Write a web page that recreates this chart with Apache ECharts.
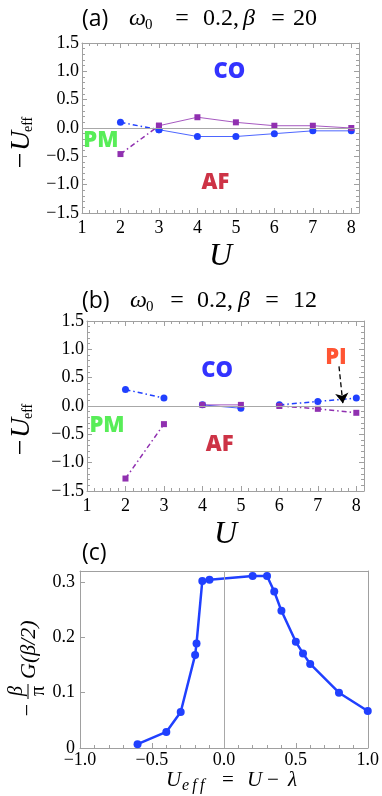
<!DOCTYPE html>
<html>
<head>
    <meta charset="utf-8">
    <title>ECharts</title>
    <script src="https://cdn.jsdelivr.net/npm/echarts@6/dist/echarts.min.js"></script>
    <style>
        html, body, #main {
            width: 100%;
            height: 100%;
            margin: 0;
            background: #fff;
        }
    </style>
</head>
<body>
<div id="main"></div>
<script type="text/javascript">
// panels (a) and (b): -U_eff against U
var uValues = [2, 3, 4, 5, 6, 7, 8];
var coA = [0.10, -0.03, -0.15, -0.15, -0.10, -0.05, -0.05];   // blue circles
var afA = [-0.46, 0.04, 0.19, 0.10, 0.04, 0.04, 0.00];        // purple squares
var coB = [0.29, 0.14, 0.02, -0.04, 0.02, 0.08, 0.14];
var afB = [-1.28, -0.32, 0.02, 0.02, 0.00, -0.05, -0.12];
// line pieces: first index, last index, dash style
var piecesA = [[0, 1, 'dashdot'], [1, 6, 'solid']];
var piecesB = [[0, 1, 'dashdot'], [2, 3, 'solid'], [4, 6, 'dashdot']];
// region names, in data coordinates
var namesA = [['CO', 4.83, 0.99], ['PM', 1.49, -0.23], ['AF', 4.47, -0.97]];
var namesB = [['CO', 4.38, 0.63], ['PM', 1.52, -0.34], ['AF', 4.45, -0.69], ['PI', 7.47, 0.86]];
var arrowB = [[7.55, 0.70], [7.65, 0.05]];

// panel (c): -(beta/pi) G(beta/2) against U_eff
var uEff = [-0.6, -0.4, -0.3, -0.2, -0.19, -0.15, -0.1, 0.2, 0.3, 0.35, 0.4, 0.5, 0.55, 0.6, 0.8, 1.0];
var gHalf = [0.007, 0.029, 0.065, 0.168, 0.189, 0.302, 0.304, 0.311, 0.311, 0.283, 0.248, 0.192, 0.171, 0.152, 0.100, 0.067];

var SERIF = 'Liberation Serif';
var SANS = 'Open Sans';
var FRAME = '#a0a0a0';
var BLUE = '#2040ff';
var PURPLE = '#9030b0';
var DASHDOT = [5, 3, 1.5, 3];
var nameColor = {CO: '#0000ff', PM: '#2ee82e', AF: '#c00018', PI: '#ff2a00'};

var myChart = echarts.init(document.getElementById('main'));

function minus(s) { return s.replace('-', '\u2212'); }

function pts(xs, ys, i, j) {
    var r = [];
    for (var k = i; k <= j; k++) r.push([xs[k], ys[k]]);
    return r;
}

function frameAxis(grid, pos, opts) {
    var a = {
        type: 'value', gridIndex: grid, position: pos,
        axisLine: {show: true, onZero: false, lineStyle: {color: FRAME, width: 1}},
        axisTick: {show: true, inside: true, length: 5, lineStyle: {color: FRAME}},
        minorTick: {show: false},
        splitLine: {show: false},
        axisLabel: {show: false}
    };
    for (var k in opts) a[k] = opts[k];
    return a;
}

function label(fmt, margin) {
    return {show: true, margin: margin, color: '#000', fontFamily: SERIF, fontSize: 18, formatter: fmt};
}

var uFmt = function (v) { return Math.abs(v - Math.round(v)) < 1e-6 ? String(Math.round(v)) : ''; };
var yFmt = function (v) { return minus(v.toFixed(1)); };

var xAxes = [], yAxes = [];
[0, 1].forEach(function (g) {
    ['bottom', 'top'].forEach(function (p) {
        xAxes.push(frameAxis(g, p, {
            min: 1, max: 8.2, interval: 1,
            minorTick: {show: true, splitNumber: 5, length: 3, lineStyle: {color: FRAME}},
            axisLabel: p === 'bottom' ? label(uFmt, 6) : {show: false},
            name: p === 'bottom' ? 'U' : '', nameLocation: 'middle', nameGap: 28,
            nameTextStyle: {fontFamily: SERIF, fontStyle: 'italic', fontSize: 32, color: '#000'}
        }));
    });
    ['left', 'right'].forEach(function (p) {
        yAxes.push(frameAxis(g, p, {
            min: -1.5, max: 1.5, interval: 0.5,
            minorTick: {show: true, splitNumber: 5, length: 3, lineStyle: {color: FRAME}},
            axisLabel: p === 'left' ? label(yFmt, 3) : {show: false}
        }));
    });
});
xAxes.push(frameAxis(2, 'bottom', {
    min: -1, max: 1, interval: 0.5,
    minorTick: {show: true, splitNumber: 5, length: 3, lineStyle: {color: FRAME}},
    axisLabel: label(yFmt, 3)
}));
xAxes.push(frameAxis(2, 'top', {min: -1, max: 1, axisTick: {show: false}}));
yAxes.push(frameAxis(2, 'left', {
    min: 0, max: 0.32, interval: 0.1,
    axisLabel: label(function (v) {
        if (v === 0) return '0';
        return Math.abs(v * 10 - Math.round(v * 10)) < 1e-6 ? v.toFixed(1) : '';
    }, 5)
}));
yAxes.push(frameAxis(2, 'right', {min: 0, max: 0.32, axisTick: {show: false}}));

function lineSeries(g, ys, pieces, color, symbol, size) {
    return pieces.map(function (p) {
        var solid = p[2] === 'solid';
        return {
            type: 'line', xAxisIndex: g * 2, yAxisIndex: g * 2,
            data: pts(uValues, ys, p[0], p[1]),
            symbol: symbol, symbolSize: size, showSymbol: true,
            itemStyle: {color: color},
            lineStyle: {color: color, width: solid ? 1 : 1.5, type: solid ? 'solid' : DASHDOT, opacity: solid ? 0.8 : 1},
            z: 3
        };
    });
}

function zeroLine(g, key) {
    var d = {};
    d[key] = 0;
    return {
        type: 'line', xAxisIndex: g * 2, yAxisIndex: g * 2, data: [], z: 1,
        markLine: {silent: true, symbol: 'none', label: {show: false},
            lineStyle: {color: '#a8a8a8', width: 1, type: 'solid'}, data: [d]}
    };
}

function nameSeries(g, names) {
    return {
        type: 'scatter', xAxisIndex: g * 2, yAxisIndex: g * 2, z: 5,
        symbolSize: 1, itemStyle: {color: 'rgba(0,0,0,0)'},
        data: names.map(function (n) {
            return {
                value: [n[1], n[2]],
                label: {show: true, position: 'inside', formatter: n[0], color: nameColor[n[0]],
                    fontFamily: SANS, fontWeight: 800, fontSize: 22}
            };
        })
    };
}

var series = [];
series.push(zeroLine(0, 'yAxis'));
series = series.concat(lineSeries(0, coA, piecesA, BLUE, 'circle', 7));
series = series.concat(lineSeries(0, afA, piecesA, PURPLE, 'rect', 6));
series.push(nameSeries(0, namesA));

series.push(zeroLine(1, 'yAxis'));
series = series.concat(lineSeries(1, coB, piecesB, BLUE, 'circle', 7));
series = series.concat(lineSeries(1, afB, piecesB, PURPLE, 'rect', 6));
series.push(nameSeries(1, namesB));
series.push({
    type: 'line', xAxisIndex: 2, yAxisIndex: 2, data: [], z: 6,
    markLine: {silent: true, symbol: ['none', 'arrow'], symbolSize: 10, label: {show: false},
        lineStyle: {color: '#000', width: 1.3, type: [5, 3]},
        data: [[{coord: arrowB[0]}, {coord: arrowB[1]}]]}
});

series.push(zeroLine(2, 'xAxis'));
series.push({
    type: 'line', xAxisIndex: 4, yAxisIndex: 4, z: 3,
    data: uEff.map(function (x, i) { return [x, gHalf[i]]; }),
    symbol: 'circle', symbolSize: 8, showSymbol: true,
    itemStyle: {color: BLUE}, lineStyle: {color: BLUE, width: 2.5}
});

// text helper; local x/y, serif unless given
function t(x, y, s, size, extra) {
    var st = {text: s, x: x, y: y, fill: '#000', fontFamily: SERIF, fontSize: size,
        align: 'left', verticalAlign: 'middle'};
    for (var k in extra) st[k] = extra[k];
    return {type: 'text', style: st, z: 10};
}
var IT = {fontStyle: 'italic'};

function title(tag, y, xs, num) {
    return [
        t(82, y, tag, 23, {fontFamily: SANS}),
        t(xs[0], y, '\u03c9', 24, IT),
        t(xs[0] + 16, y + 6, '0', 15),
        t(xs[1], y, '=', 24, {align: 'center'}),
        t(xs[2], y, '0.2,', 24),
        t(xs[3], y, '\u03b2', 24, IT),
        t(xs[4], y, '=', 24, {align: 'center'}),
        t(xs[5], y, num, 24)
    ];
}

function yName(x, y) {
    return {
        type: 'group', x: x, y: y, rotation: Math.PI / 2,
        children: [
            t(0, -9, '\u2212U', 28, IT),
            t(38, -3, 'eff', 14)
        ]
    };
}

var graphics = []
    .concat(title('(a)', 19, [129, 182, 203, 243, 278, 293], '20'))
    .concat(title('(b)', 301, [130, 177, 197, 238, 272, 293], '12'))
    .concat([
        t(82, 553, '(c)', 23, {fontFamily: SANS}),
        yName(31, 170),
        yName(31, 457),
        {
            type: 'group', x: 28, y: 722, rotation: Math.PI / 2,
            children: [
                t(12, 0, '\u2212', 22, {align: 'center'}),
                {type: 'line', shape: {x1: 23, y1: 0, x2: 38, y2: 0}, style: {stroke: '#000', lineWidth: 1}},
                t(31, -11, '\u03b2', 20, {fontStyle: 'italic', align: 'center'}),
                t(31, 11, '\u03c0', 20, {align: 'center'}),
                t(43, 1, 'G(\u03b2/2)', 22, IT)
            ]
        },
        t(166, 780, 'U', 21, IT),
        t(182, 786, 'e\u2009f\u2009f', 16, IT),
        t(222, 780, '=', 21),
        t(247, 780, 'U', 21, IT),
        t(267, 780, '\u2212', 21),
        t(288, 780, '\u03bb', 21, IT)
    ]);

var option = {
    animation: false,
    backgroundColor: '#fff',
    grid: [
        {left: 82, top: 43, width: 277, height: 170},
        {left: 87, top: 321, width: 277, height: 170},
        {left: 80, top: 571, width: 288, height: 177}
    ],
    xAxis: xAxes,
    yAxis: yAxes,
    series: series,
    graphic: graphics
};
myChart.setOption(option, true);
</script>
</body>
</html>
